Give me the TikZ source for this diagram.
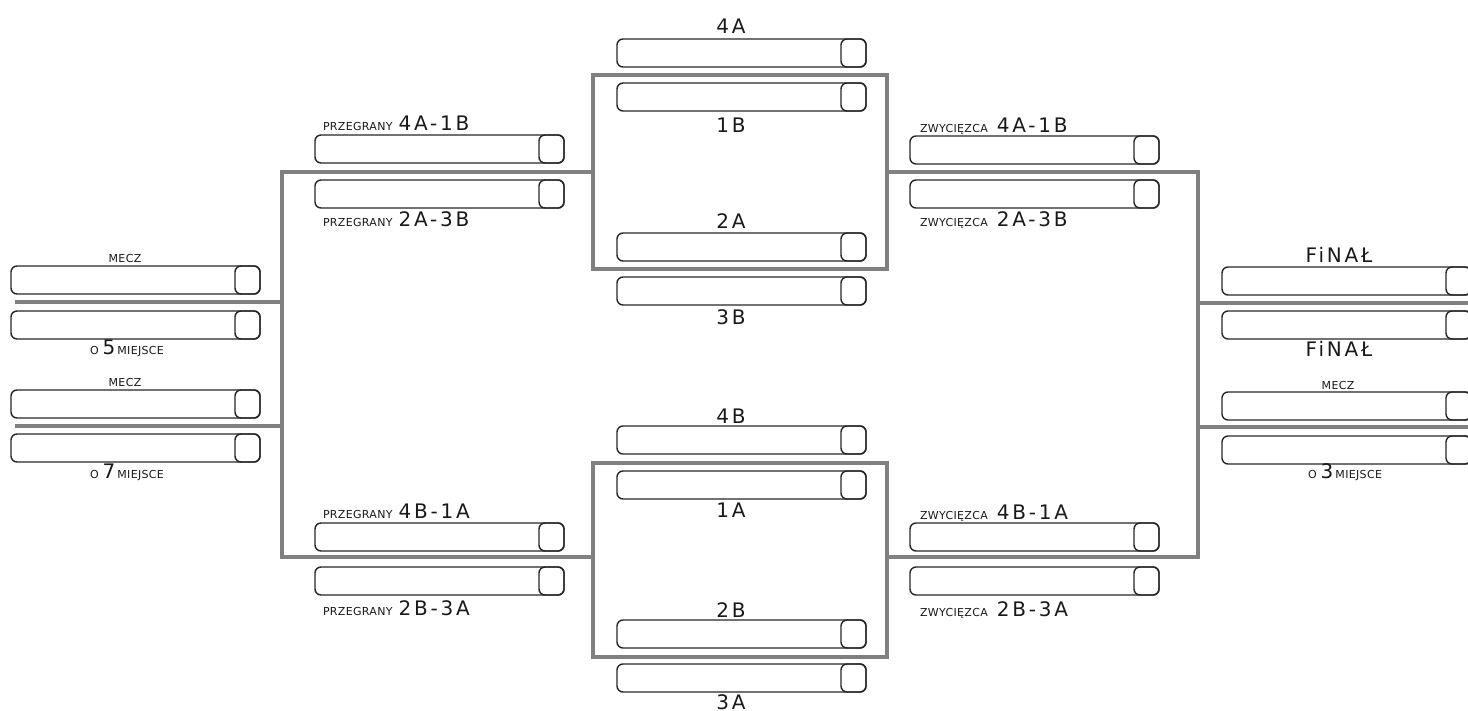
\documentclass[tikz,border=0pt]{standalone}
\usepackage{fontspec}
\setmainfont{DejaVu Sans}
\newfontfamily\bigfam[LetterSpace=14]{DejaVu Sans}
\newfontfamily\smallfam[LetterSpace=3]{DejaVu Sans}
\newcommand\BL[1]{{\bigfam\fontsize{20}{20}\selectfont #1}}
\newcommand\SL[1]{{\smallfam\fontsize{11}{11}\selectfont #1}}
\newcommand\sbx[3]{\node[sbox] (#1) at (#2,#3) {};\node[sq] (#1-s) at (#1.east) {};}
\begin{document}
\begin{tikzpicture}[x=1pt,y=-1pt,
  sbox/.style={draw=black!85, line width=1.4pt, rounded corners=6pt, minimum width=249pt, minimum height=28pt, inner sep=0pt, outer sep=0pt, anchor=north west},
  sq/.style={draw=black!85, line width=1.4pt, rounded corners=6pt, minimum width=25pt, minimum height=28pt, inner sep=0pt, outer sep=0pt, anchor=east},
  link/.style={draw=black!50, line width=3.2pt},
  frm/.style={draw=black!50, line width=3.2pt, inner sep=0pt, outer sep=0pt, anchor=north west, minimum width=294pt, minimum height=194pt},
  lab/.style={inner sep=0pt, outer sep=0pt, text=black!90},
]
\useasboundingbox (0,0) rectangle (1468,711);
\clip (0,0) rectangle (1468,711);
% frames
\node[frm] (ftop) at (593,75) {};
\node[frm] (fbot) at (593,463) {};
% bracket coordinates
\coordinate (lt) at (593,172);
\coordinate (lct) at (282,172);
\coordinate (lcb) at (282,557);
\coordinate (lb) at (593,557);
\coordinate (rt) at (887,172);
\coordinate (rct) at (1198,172);
\coordinate (rcb) at (1198,557);
\coordinate (rb) at (887,557);
\coordinate (l5a) at (15,302);
\coordinate (l5b) at (282,302);
\coordinate (l7a) at (15,426);
\coordinate (l7b) at (282,426);
\coordinate (rfa) at (1198,303);
\coordinate (rfb) at (1468,303);
\coordinate (r3a) at (1198,427);
\coordinate (r3b) at (1468,427);
\draw[link] (lt) -- (lct) -- (lcb) -- (lb);
\draw[link] (rt) -- (rct) -- (rcb) -- (rb);
\draw[link] (l5a) -- (l5b);
\draw[link] (l7a) -- (l7b);
\draw[link] (rfa) -- (rfb);
\draw[link] (r3a) -- (r3b);
% center boxes
\sbx{c4A}{617}{39}
\sbx{c1B}{617}{83}
\sbx{c2A}{617}{233}
\sbx{c3B}{617}{277}
\sbx{c4B}{617}{426}
\sbx{c1A}{617}{471}
\sbx{c2B}{617}{620}
\sbx{c3A}{617}{664}
% left semifinal boxes
\sbx{lp1}{315}{135}
\sbx{lp2}{315}{180}
\sbx{lp3}{315}{523}
\sbx{lp4}{315}{567}
% right semifinal boxes
\sbx{rw1}{910}{136}
\sbx{rw2}{910}{180}
\sbx{rw3}{910}{523}
\sbx{rw4}{910}{567}
% left placement boxes
\sbx{m5a}{11}{266}
\sbx{m5b}{11}{311}
\sbx{m7a}{11}{390}
\sbx{m7b}{11}{434}
% right final boxes
\sbx{fa}{1222}{267}
\sbx{fb}{1222}{311}
\sbx{m3a}{1222}{392}
\sbx{m3b}{1222}{436}
% center labels
\node[lab, anchor=base] (t4A) at (731,34) {\BL{4A}};
\node[lab, anchor=base] (t1B) at (731,133) {\BL{1B}};
\node[lab, anchor=base] (t2A) at (731,229) {\BL{2A}};
\node[lab, anchor=base] (t3B) at (731,325) {\BL{3B}};
\node[lab, anchor=base] (t4B) at (731,423) {\BL{4B}};
\node[lab, anchor=base] (t1A) at (731,517) {\BL{1A}};
\node[lab, anchor=base] (t2B) at (731,617) {\BL{2B}};
\node[lab, anchor=base] (t3A) at (731,709) {\BL{3A}};
% left semifinal labels
\node[lab, anchor=base west] (p1) at (323,131) {\SL{PRZEGRANY}\hspace{6pt}\BL{4A-1B}};
\node[lab, anchor=base west] (p2) at (323,227) {\SL{PRZEGRANY}\hspace{6pt}\BL{2A-3B}};
\node[lab, anchor=base west] (p3) at (323,518) {\SL{PRZEGRANY}\hspace{6pt}\BL{4B-1A}};
\node[lab, anchor=base west] (p4) at (323,615) {\SL{PRZEGRANY}\hspace{6pt}\BL{2B-3A}};
% right semifinal labels
\node[lab, anchor=base west] (w1) at (920,133) {\SL{ZWYCIĘZCA}\hspace{9pt}\BL{4A-1B}};
\node[lab, anchor=base west] (w2) at (920,227) {\SL{ZWYCIĘZCA}\hspace{9pt}\BL{2A-3B}};
\node[lab, anchor=base west] (w3) at (920,519) {\SL{ZWYCIĘZCA}\hspace{9pt}\BL{4B-1A}};
\node[lab, anchor=base west] (w4) at (920,616) {\SL{ZWYCIĘZCA}\hspace{9pt}\BL{2B-3A}};
% left placement labels
\node[lab, anchor=base] (mecz1) at (125,263) {\SL{MECZ}};
\node[lab, anchor=base] (o5) at (127,355) {\SL{O}\hspace{4pt}\BL{5}\hspace{2pt}\SL{MIEJSCE}};
\node[lab, anchor=base] (mecz2) at (125,387) {\SL{MECZ}};
\node[lab, anchor=base] (o7) at (127,478) {\SL{O}\hspace{4pt}\BL{7}\hspace{2pt}\SL{MIEJSCE}};
% right final labels
\node[lab, anchor=base] (fin1) at (1339,263) {\BL{FiNAŁ}};
\node[lab, anchor=base] (fin2) at (1339,357) {\BL{FiNAŁ}};
\node[lab, anchor=base] (mecz3) at (1338,389) {\SL{MECZ}};
\node[lab, anchor=base] (o3) at (1345,478) {\SL{O}\hspace{4pt}\BL{3}\hspace{2pt}\SL{MIEJSCE}};
\end{tikzpicture}
\end{document}
